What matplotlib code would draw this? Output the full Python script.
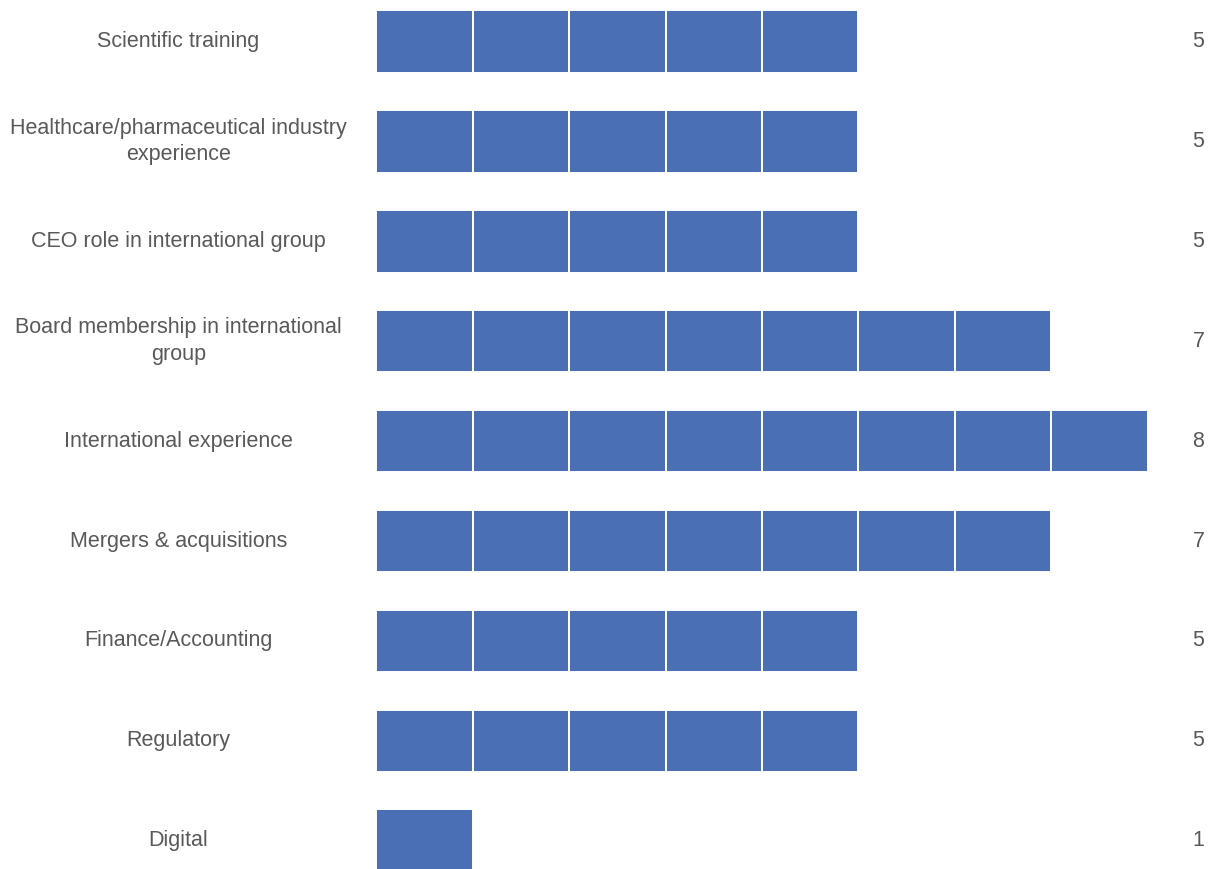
import matplotlib
matplotlib.use("Agg")
import matplotlib.pyplot as plt
from matplotlib.transforms import blended_transform_factory

categories = [
    "Scientific training",
    "Healthcare/pharmaceutical industry\nexperience",
    "CEO role in international group",
    "Board membership in international\ngroup",
    "International experience",
    "Mergers & acquisitions",
    "Finance/Accounting",
    "Regulatory",
    "Digital",
]
values = [5, 5, 5, 7, 8, 7, 5, 5, 1]

BAR_COLOR = "#4A6FB5"
TEXT_COLOR = "#595959"

W, H = 1209, 869
fig = plt.figure(figsize=(W / 100, H / 100), dpi=100)

left_px, right_px = 376.3, 1147.7
row_px = 99.9
first_center_px = 41.5
ax = fig.add_axes([left_px / W, 0, (right_px - left_px) / W, 1])
ax.set_xlim(0, 8)
top = -first_center_px / row_px
bottom = (H - first_center_px) / row_px
ax.set_ylim(bottom, top)
ax.axis("off")

for i, (cat, v) in enumerate(zip(categories, values)):
    ax.barh([i] * v, [1] * v, left=list(range(v)), height=0.625,
            color=BAR_COLOR, edgecolor="white", linewidth=1.4)

tr = blended_transform_factory(fig.transFigure, ax.transData)
for i, (cat, v) in enumerate(zip(categories, values)):
    ax.text(178.5 / W, i, cat, transform=tr, ha="center", va="center",
            multialignment="center", fontsize=15.5, color=TEXT_COLOR,
            family="Liberation Sans", linespacing=1.35)
    ax.text(1198.5 / W, i, str(v), transform=tr, ha="center", va="center",
            fontsize=15.5, color=TEXT_COLOR, family="Liberation Sans")

fig.savefig("out.png", dpi=100)
